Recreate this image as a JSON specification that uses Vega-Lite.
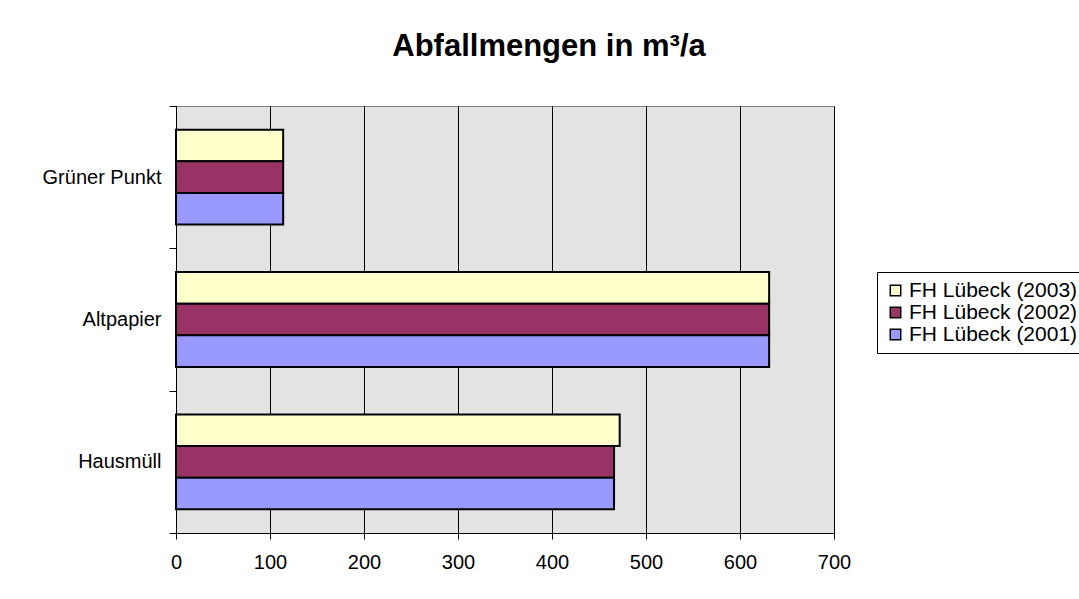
{
  "$schema": "https://vega.github.io/schema/vega-lite/v6.json",
  "autosize": "none",
  "width": 658,
  "height": 427,
  "padding": {"left": 176, "top": 106, "right": 245, "bottom": 66},
  "background": "white",
  "title": {
    "text": "Abfallmengen in m³/a",
    "font": "Liberation Sans",
    "fontSize": 31,
    "fontWeight": "bold",
    "color": "black",
    "anchor": "middle",
    "dx": 44,
    "offset": 33
  },
  "data": {
    "values": [
      {"Kategorie": "Grüner Punkt", "Reihe": "FH Lübeck (2003)", "Wert": 114},
      {"Kategorie": "Grüner Punkt", "Reihe": "FH Lübeck (2002)", "Wert": 114},
      {"Kategorie": "Grüner Punkt", "Reihe": "FH Lübeck (2001)", "Wert": 114},
      {"Kategorie": "Altpapier", "Reihe": "FH Lübeck (2003)", "Wert": 631},
      {"Kategorie": "Altpapier", "Reihe": "FH Lübeck (2002)", "Wert": 631},
      {"Kategorie": "Altpapier", "Reihe": "FH Lübeck (2001)", "Wert": 631},
      {"Kategorie": "Hausmüll", "Reihe": "FH Lübeck (2003)", "Wert": 472},
      {"Kategorie": "Hausmüll", "Reihe": "FH Lübeck (2002)", "Wert": 466},
      {"Kategorie": "Hausmüll", "Reihe": "FH Lübeck (2001)", "Wert": 466}
    ]
  },
  "mark": {"type": "bar", "stroke": "black", "strokeWidth": 2},
  "encoding": {
    "y": {
      "field": "Kategorie",
      "type": "nominal",
      "sort": ["Grüner Punkt", "Altpapier", "Hausmüll"],
      "scale": {"paddingInner": 0, "paddingOuter": 0},
      "axis": {
        "title": null,
        "tickBand": "extent",
        "tickSize": 7,
        "tickColor": "black",
        "domainColor": "black",
        "labelPadding": 8,
        "labelFontSize": 20,
        "labelFont": "Liberation Sans",
        "labelColor": "black",
        "grid": false
      }
    },
    "yOffset": {
      "field": "Reihe",
      "type": "nominal",
      "sort": ["FH Lübeck (2003)", "FH Lübeck (2002)", "FH Lübeck (2001)"],
      "scale": {"paddingInner": 0, "paddingOuter": 0.75}
    },
    "x": {
      "field": "Wert",
      "type": "quantitative",
      "scale": {"domain": [0, 700], "nice": false},
      "axis": {
        "title": null,
        "values": [0, 100, 200, 300, 400, 500, 600, 700],
        "grid": true,
        "gridColor": "black",
        "gridOpacity": 1,
        "tickColor": "black",
        "tickSize": 6,
        "domainColor": "black",
        "labelPadding": 13,
        "labelFontSize": 20,
        "labelFont": "Liberation Sans",
        "labelColor": "black",
        "labelFlush": false
      }
    },
    "color": {
      "field": "Reihe",
      "type": "nominal",
      "sort": ["FH Lübeck (2003)", "FH Lübeck (2002)", "FH Lübeck (2001)"],
      "scale": {
        "domain": ["FH Lübeck (2003)", "FH Lübeck (2002)", "FH Lübeck (2001)"],
        "range": ["#FFFFCC", "#993366", "#9999FF"]
      },
      "legend": {
        "title": null,
        "orient": "none",
        "legendX": 701,
        "legendY": 166,
        "symbolType": "square",
        "symbolSize": 110,
        "symbolStrokeColor": "black",
        "symbolStrokeWidth": 1.5,
        "symbolOpacity": 1,
        "labelFontSize": 21,
        "labelFont": "Liberation Sans",
        "labelColor": "black",
        "labelLimit": 400,
        "labelOffset": 3,
        "rowPadding": 0,
        "padding": 8,
        "strokeColor": "black",
        "fillColor": "white"
      }
    }
  },
  "config": {
    "view": {"fill": "#E3E3E3", "stroke": "#808080", "strokeWidth": 1}
  }
}
